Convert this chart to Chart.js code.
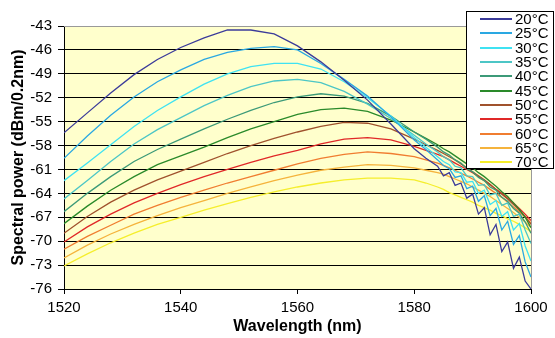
<!DOCTYPE html>
<html>
<head>
<meta charset="utf-8">
<script src="https://cdn.jsdelivr.net/npm/chart.js@4.4.1/dist/chart.umd.min.js"></script>
<style>
  body { margin: 0; background: #fff; }
  #wrap { position: relative; width: 555px; height: 338px; }
  #legend {
    position: absolute; left: 466px; top: 11px; width: 86px; height: 156px;
    background: #fff; border: 1px solid #000; font-family: 'Liberation Sans', Arial, sans-serif;
    font-size: 15px; color: #000;
  }
  #legend .row { position: absolute; left: 0; width: 100%; height: 14.34px; }
  #legend .swatch { position: absolute; left: 13px; top: 6px; width: 32px; height: 2px; }
  #legend .txt { position: absolute; left: 48px; top: 0; line-height: 14.34px; white-space: nowrap; }
</style>
</head>
<body>
<div id="wrap">
  <canvas id="chart" width="555" height="338"></canvas>
  <div id="legend"></div>
</div>
<script>
// DATA
let wavelengths = [1520,1524,1528,1532,1536,1540,1544,1548,1552,1556,1560,1564,1568,1572,1576,1580,1582,
                   1584,1585,1586,1587,1588,1589,1590,1591,1592,1593,1594,1595,1596,1597,1598,1599,1600];
let tempLabels = ['20°C','25°C','30°C','35°C','40°C','45°C','50°C','55°C','60°C','65°C','70°C'];

let p20 = [-56.4,-53.9,-51.4,-49.1,-47.2,-45.7,-44.5,-43.5,-43.5,-44.0,-45.5,-47.5,-49.8,-52.3,-55.3,-58.4,-59.6,
           -60.6,-61.8,-61.4,-63.0,-62.7,-64.6,-64.1,-66.6,-65.8,-69.2,-67.9,-71.3,-70.1,-73.4,-72.0,-75.0,-76.0];
let p25 = [-59.6,-56.8,-54.2,-51.9,-50.0,-48.5,-47.2,-46.3,-45.8,-45.6,-46.0,-47.7,-49.7,-51.8,-54.4,-57.3,-58.5,
           -59.8,-60.5,-60.9,-62.0,-61.8,-63.4,-63.1,-65.0,-64.3,-66.8,-65.9,-68.6,-67.5,-70.4,-69.3,-72.6,-74.5];
let p30 = [-62.4,-60.2,-57.9,-55.6,-53.6,-51.9,-50.3,-49.0,-48.1,-47.7,-47.7,-48.4,-50.0,-52.0,-54.3,-57.0,-58.2,
           -59.4,-60.0,-60.4,-61.3,-61.4,-62.6,-62.5,-64.0,-63.6,-65.4,-64.9,-66.9,-66.3,-68.6,-67.8,-70.6,-72.5];
let p35 = [-64.7,-62.4,-60.0,-57.8,-56.0,-54.5,-53.0,-51.7,-50.6,-49.9,-49.7,-50.1,-51.2,-52.8,-54.6,-56.7,-57.8,
           -58.8,-59.4,-59.8,-60.6,-60.8,-61.8,-61.9,-63.0,-62.9,-64.2,-64.0,-65.5,-65.2,-66.9,-66.6,-68.6,-70.3];
let p40 = [-66.3,-64.0,-61.9,-60.0,-58.5,-57.2,-55.9,-54.7,-53.6,-52.6,-51.9,-51.5,-51.8,-52.7,-54.3,-56.3,-57.2,
           -58.2,-58.8,-59.2,-59.8,-60.2,-60.9,-61.3,-62.0,-62.4,-63.2,-63.6,-64.5,-65.0,-65.9,-66.5,-67.6,-69.0];
let p45 = [-67.8,-65.6,-63.6,-61.9,-60.4,-59.3,-58.2,-57.0,-55.9,-55.0,-54.1,-53.5,-53.3,-53.7,-54.8,-56.3,-57.1,
           -57.9,-58.4,-58.8,-59.3,-59.8,-60.3,-60.8,-61.4,-61.9,-62.5,-63.1,-63.8,-64.4,-65.2,-66.0,-67.0,-68.3];
let p50 = [-69.0,-66.9,-65.1,-63.6,-62.3,-61.2,-60.1,-59.0,-58.0,-57.1,-56.3,-55.6,-55.1,-55.2,-55.9,-57.2,-57.9,
           -58.6,-59.0,-59.4,-59.8,-60.3,-60.8,-61.3,-61.8,-62.3,-62.9,-63.5,-64.1,-64.7,-65.4,-66.1,-66.9,-67.9];
let p55 = [-70.1,-68.2,-66.6,-65.2,-64.0,-62.9,-61.9,-61.0,-60.1,-59.3,-58.6,-57.8,-57.2,-57.0,-57.3,-58.1,-58.6,
           -59.1,-59.4,-59.8,-60.2,-60.6,-61.0,-61.4,-61.9,-62.4,-62.9,-63.5,-64.0,-64.6,-65.2,-65.9,-66.6,-67.4];
let p60 = [-71.0,-69.4,-68.0,-66.6,-65.5,-64.5,-63.6,-62.7,-61.9,-61.1,-60.3,-59.6,-59.1,-58.8,-59.0,-59.4,-59.8,
           -60.2,-60.5,-60.8,-61.1,-61.5,-61.8,-62.2,-62.6,-63.0,-63.5,-64.0,-64.5,-65.1,-65.7,-66.3,-67.0,-67.7];
let p65 = [-72.1,-70.5,-69.1,-67.9,-66.8,-65.8,-64.9,-64.0,-63.2,-62.4,-61.7,-61.1,-60.7,-60.4,-60.5,-60.8,-61.1,
           -61.4,-61.6,-61.9,-62.2,-62.5,-62.8,-63.2,-63.6,-64.0,-64.4,-64.9,-65.4,-65.9,-66.4,-67.0,-67.6,-68.3];
let p70 = [-73.1,-71.6,-70.2,-69.0,-67.9,-67.0,-66.1,-65.3,-64.5,-63.8,-63.2,-62.7,-62.3,-62.1,-62.1,-62.3,-62.7,
           -63.2,-63.5,-63.9,-64.2,-64.5,-64.8,-65.1,-65.5,-65.8,-66.1,-66.5,-66.8,-67.2,-67.5,-67.9,-68.3,-68.8];

let xTicks = [1520, 1540, 1560, 1580, 1600];
let yMin = -76, yMax = -43, yStep = 3;

let allSeries = [p20, p25, p30, p35, p40, p45, p50, p55, p60, p65, p70];
let colors = ['#3b3b9a','#2aa8e2','#3fe2f2','#4cc6c6','#3c9a78','#2a8a2a','#a0522d','#e02828','#f07d30','#f5b33c','#f5ee2c'];

// BUILD DATASETS
let datasets = allSeries.map((s, i) => ({
  label: tempLabels[i],
  data: s.map((v, j) => ({ x: wavelengths[j], y: v })),
  borderColor: colors[i],
  backgroundColor: colors[i],
  borderWidth: 1.3,
  pointRadius: 0,
  tension: 0,
  fill: false
}));

// PLOT BACKGROUND + GREY FRAME
let plotBg = {
  id: 'plotBg',
  beforeDraw(chart) {
    let a = chart.chartArea, ctx = chart.ctx;
    ctx.save();
    ctx.fillStyle = '#ffffcc';
    ctx.fillRect(a.left, a.top, a.right - a.left, a.bottom - a.top);
    ctx.restore();
  },
  beforeDatasetsDraw(chart) {
    let a = chart.chartArea, ctx = chart.ctx;
    ctx.save();
    ctx.strokeStyle = '#999';
    ctx.lineWidth = 1;
    ctx.beginPath();
    ctx.moveTo(a.left, a.top + 0.5);
    ctx.lineTo(a.right + 0.5, a.top + 0.5);
    ctx.lineTo(a.right + 0.5, a.bottom);
    ctx.stroke();
    ctx.restore();
  }
};

let font = { family: "'Liberation Sans', Arial, sans-serif", size: 15 };

let graph = new Chart(document.getElementById('chart').getContext('2d'), {
  type: 'line',
  data: { datasets: datasets },
  options: {
    responsive: false,
    animation: false,
    devicePixelRatio: 1,
    layout: { padding: { top: 26, right: 24, left: 0, bottom: 0 } },
    plugins: { legend: { display: false }, tooltip: { enabled: false } },
    scales: {
      x: {
        type: 'linear', min: 1520, max: 1600,
        afterFit: s => { s.height = 49; },
        afterBuildTicks: s => { s.ticks = xTicks.map(v => ({ value: v })); },
        ticks: { color: '#000', font: font, padding: 5, maxRotation: 0, callback: v => String(v) },
        grid: { drawOnChartArea: false, drawTicks: true, tickLength: 5, tickColor: '#000' },
        border: { color: '#000', width: 1 },
        title: { display: true, text: 'Wavelength (nm)', color: '#000',
                 font: { family: font.family, size: 16, weight: 'bold' }, padding: { top: 0, bottom: 2 } }
      },
      y: {
        min: yMin, max: yMax,
        afterFit: s => { s.width = 64; },
        ticks: { stepSize: yStep, color: '#000', font: font, padding: 6, callback: v => String(v) },
        grid: { color: c => (c.tick && c.tick.value === yMax ? '#999' : '#000'), tickLength: 6, tickColor: '#000' },
        border: { color: '#000', width: 1 },
        title: { display: true, text: 'Spectral power (dBm/0.2nm)', color: '#000',
                 font: { family: font.family, size: 16, weight: 'bold' }, padding: { top: 9, bottom: 0 } }
      }
    }
  },
  plugins: [plotBg]
});

// HTML LEGEND
let legend = document.getElementById('legend');
graph.data.datasets.forEach((d, i) => {
  let row = document.createElement('div');
  row.className = 'row';
  row.style.top = (i * 14.34) + 'px';
  let sw = document.createElement('span');
  sw.className = 'swatch';
  sw.style.background = d.borderColor;
  let t = document.createElement('span');
  t.className = 'txt';
  t.textContent = d.label;
  row.appendChild(sw);
  row.appendChild(t);
  legend.appendChild(row);
});
</script>
</body>
</html>
